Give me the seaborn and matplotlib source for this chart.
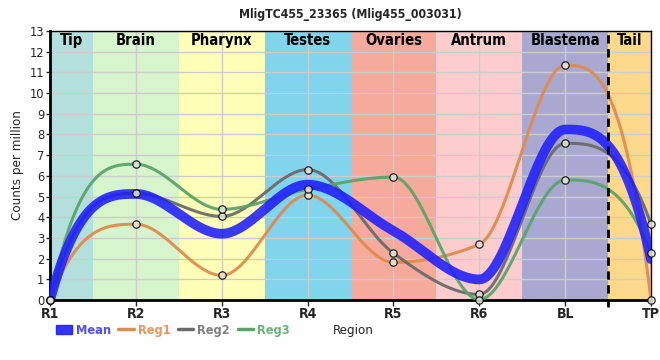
import numpy as np
import pandas as pd
import matplotlib
matplotlib.use("Agg")
import matplotlib.pyplot as plt
import seaborn as sns
from matplotlib import font_manager as fm
from matplotlib.lines import Line2D
from matplotlib.patches import Patch

# ---- data ----
categories = ["R1", "R2", "R3", "R4", "R5", "R6", "BL", "TP"]
reg1 = [0.0, 3.66, 1.19, 5.07, 1.82, 2.69, 11.34, 0.0]
reg2 = [0.0, 5.15, 4.04, 6.30, 2.26, 0.27, 7.57, 3.66]
reg3 = [0.0, 6.56, 4.38, 5.35, 5.94, 0.02, 5.80, 2.26]
mean = list(np.mean([reg1, reg2, reg3], axis=0))
regions = ["Tip", "Brain", "Pharynx", "Testes", "Ovaries", "Antrum", "Blastema", "Tail"]
region_spans = [(0, 0.5), (0.5, 1.5), (1.5, 2.5), (2.5, 3.5), (3.5, 4.5), (4.5, 5.5), (5.5, 6.5), (6.5, 7)]
region_colors = ["#b3e0dc", "#d6f5cc", "#ffffb8", "#80d4ec", "#f5aa9c", "#fdcccc", "#a8a8d0", "#fdd98c"]
title = "MligTC455_23365 (Mlig455_003031)"

sns.set_theme(style="white")

# choose a condensed face if one is installed
entries = fm.fontManager.ttflist
names = {f.name for f in entries}
if "Liberation Sans Narrow" in names:
    plt.rcParams['font.family'] = ['Liberation Sans Narrow', 'DejaVu Sans']
    scale = 1.0
elif any(f.name == "DejaVu Sans" and "condensed" in str(f.stretch) for f in entries):
    plt.rcParams['font.family'] = ['DejaVu Sans']
    plt.rcParams['font.stretch'] = 'condensed'
    scale = 0.92
else:
    plt.rcParams['font.family'] = ['Liberation Sans', 'DejaVu Sans']
    scale = 0.9


def monotone(y, n=40):
    """Monotone cubic rendering of a series (display smoothing only)."""
    y = np.asarray(y, float)
    x = np.arange(len(y), dtype=float)
    s = np.diff(y)
    t = np.zeros_like(y)
    for i in range(1, len(y) - 1):
        s0, s1 = s[i - 1], s[i]
        if s0 * s1 <= 0:
            t[i] = 0.0
        else:
            p = (s0 + s1) / 2
            t[i] = np.sign(s0) * min(2 * abs(s0), 2 * abs(s1), abs(p))
    t[0] = 3 * s[0]
    t[-1] = 3 * s[-1]
    xs, ys = [], []
    for i in range(len(y) - 1):
        u = np.linspace(0, 1, n, endpoint=(i == len(y) - 2))
        h00 = 2 * u**3 - 3 * u**2 + 1
        h10 = u**3 - 2 * u**2 + u
        h01 = -2 * u**3 + 3 * u**2
        h11 = u**3 - u**2
        xs.append(x[i] + u)
        ys.append(h00 * y[i] + h10 * t[i] + h01 * y[i + 1] + h11 * t[i + 1])
    return np.concatenate(xs), np.concatenate(ys)


fig = plt.figure(figsize=(6.6, 3.6), dpi=100)
ax = fig.add_axes([0.0758, 0.1667, 0.9106, 0.7473])

for (a, b), c in zip(region_spans, region_colors):
    ax.axvspan(a, b, color=c, zorder=0, lw=0)
for name, (a, b) in zip(regions, region_spans):
    ax.text((a + b) / 2, 12.55, name, ha="center", va="center", fontsize=11.5 * scale,
            fontweight="bold", color="black", zorder=5)

ax.set_xlim(0, 7)
ax.set_ylim(0, 13)
ax.set_yticks(range(0, 14))
ax.set_xticks(range(len(categories)))
ax.set_xticklabels(categories, fontweight="bold", fontsize=11 * scale)
ax.grid(True, color="#cccccc", lw=1, zorder=1)
ax.set_axisbelow(True)

series = [("Reg1", reg1, "#e08b4f"), ("Reg2", reg2, "#6b6b6b"), ("Reg3", reg3, "#5aa46a")]
for name, vals, col in series:
    xs, ys = monotone(vals)
    sns.lineplot(x=xs, y=ys, ax=ax, color=col, lw=2.2, sort=False, zorder=3, alpha=0.95)

xs, ys = monotone(mean)
sns.lineplot(x=xs, y=ys, ax=ax, color="#1e1eff", lw=7, sort=False, zorder=4, alpha=0.88)

for name, vals, col in series:
    sns.scatterplot(x=np.arange(len(vals)), y=vals, ax=ax, s=28, marker="o",
                    facecolor="#e8e8e0", edgecolor="black", linewidth=0.9, zorder=6,
                    clip_on=False, alpha=0.85)

ax.plot([6.5, 6.5], [-0.35, 13], ls=(0, (3, 2)), color="black", lw=2, zorder=7, clip_on=False)

for side in ["top", "right"]:
    ax.spines[side].set_color("black")
    ax.spines[side].set_linewidth(1)
for side in ["left", "bottom"]:
    ax.spines[side].set_color("black")
    ax.spines[side].set_linewidth(2)

ax.tick_params(axis="y", labelsize=10 * scale, length=3, width=1, direction="out", left=True, pad=1)
ax.tick_params(axis="x", length=4, width=1, direction="out", bottom=True, pad=1)
ax.set_ylabel("Counts per million", fontsize=10.5 * scale, labelpad=4)
ax.set_xlabel("")
ax.set_title(title, fontsize=9.6 * scale, fontweight="bold", pad=9)

handles = [Patch(color="#1e1eff", alpha=0.9),
           Line2D([0], [0], color="#e08b4f", lw=2.5),
           Line2D([0], [0], color="#6b6b6b", lw=2.5),
           Line2D([0], [0], color="#5aa46a", lw=2.5)]
leg = fig.legend(handles, ["Mean", "Reg1", "Reg2", "Reg3"], ncol=4, loc="center left",
                 bbox_to_anchor=(0.068, 0.083), frameon=False, fontsize=10 * scale,
                 handlelength=1.2, handletextpad=0.3, columnspacing=0.6,
                 labelcolor=["#5050ff", "#e8955e", "#808080", "#6ab47a"])
for t in leg.get_texts():
    t.set_fontweight("bold")
fig.text(0.535, 0.081, "Region", ha="center", va="center", fontsize=10.5 * scale)

fig.savefig("out.png", dpi=100)
